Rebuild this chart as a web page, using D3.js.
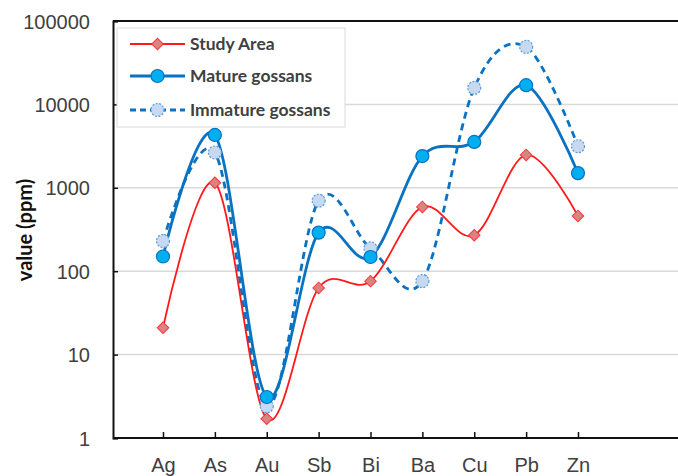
<!DOCTYPE html>
<html>
<head>
<meta charset="utf-8">
<script src="https://cdn.jsdelivr.net/npm/d3@7"></script>
<style>
  body { margin: 0; background: #fff; }
  svg { display: block; font-family: Lato, "Open Sans", sans-serif; }
</style>
</head>
<body>
<div id="chart"></div>
<script>
// elements on the x axis
var elements = ["Ag", "As", "Au", "Sb", "Bi", "Ba", "Cu", "Pb", "Zn"];

// values (ppm)
var studyArea = [21, 1150, 1.7, 63, 76, 590, 270, 2480, 460];
var matureGossans = [150, 4300, 3.1, 290, 148, 2400, 3550, 17000, 1500];
var immatureGossans = [230, 2650, 2.4, 700, 188, 76, 15800, 49000, 3150];

var yTicks = [1, 10, 100, 1000, 10000, 100000];
var seriesNames = ["Study Area", "Mature gossans", "Immature gossans"];

var width = 678, height = 476;
var margin = { top: 21, right: 0, bottom: 38, left: 113 };

var svg = d3.select("#chart")
    .append("svg")
    .attr("width", width)
    .attr("height", height);

// scales
var x = d3.scalePoint()
    .domain(elements)
    .range([163, 578]);

var y = d3.scaleLog()
    .domain([1, 100000])
    .range([height - margin.bottom, margin.top]);

// gridlines
svg.append("g")
    .selectAll("line")
    .data(yTicks.slice(1, -1))
    .enter()
    .append("line")
    .attr("x1", margin.left)
    .attr("x2", width)
    .attr("y1", function (d) { return y(d); })
    .attr("y2", function (d) { return y(d); })
    .style("stroke", "#d9d9d9")
    .style("stroke-width", 1.5);

// top frame line
svg.append("line")
    .attr("x1", margin.left)
    .attr("x2", width)
    .attr("y1", margin.top)
    .attr("y2", margin.top)
    .style("stroke", "#111")
    .style("stroke-width", 2);

// Y axis
var yAxis = svg.append("g")
    .attr("transform", "translate(" + margin.left + ",0)")
    .call(d3.axisRight(y).tickValues(yTicks).tickFormat(d3.format("d")).tickSize(5));
yAxis.select(".domain").style("stroke", "#111").style("stroke-width", 2);
yAxis.selectAll("line").style("stroke", "#111").style("stroke-width", 1.5);
yAxis.selectAll("text")
    .attr("x", -23)
    .attr("dy", "0.35em")
    .style("text-anchor", "end")
    .style("font-size", "20px")
    .style("fill", "#404040");

// X axis
var xAxis = svg.append("g")
    .attr("transform", "translate(0," + y(1) + ")")
    .call(d3.axisTop(x).tickSize(6).tickSizeOuter(0));
xAxis.select(".domain")
    .attr("d", "M" + margin.left + ",0H" + width)
    .style("stroke", "#111").style("stroke-width", 2);
xAxis.selectAll("line").style("stroke", "#111").style("stroke-width", 1.5);
xAxis.selectAll("text")
    .attr("y", 34)
    .attr("dy", 0)
    .style("font-size", "20px")
    .style("fill", "#404040");

// Y axis title
svg.append("text")
    .attr("transform", "translate(32," + 230 + ") rotate(-90)")
    .style("text-anchor", "middle")
    .style("font-size", "20px")
    .style("font-weight", "bold")
    .style("fill", "#111")
    .text("value (ppm)");

var line = d3.line()
    .x(function (d, i) { return x(elements[i]); })
    .y(function (d) { return y(d); })
    .curve(d3.curveCatmullRom.alpha(0));

var styles = [
    { data: studyArea, stroke: "#ff1a1a", width: 1.8, dash: null, shape: "diamond", fill: "#d98383", mstroke: "#ff3333", msize: 11 },
    { data: matureGossans, stroke: "#0a72c2", width: 2.8, dash: null, shape: "circle", fill: "#00aff0", mstroke: "#0a72c2", msize: 6.5 },
    { data: immatureGossans, stroke: "#0a72c2", width: 2.8, dash: "7,5", shape: "circle", fill: "#c6d9f0", mstroke: "#5b9bd5", msize: 6.5 }
];

// draw in back-to-front order like the reference
[2, 1, 0].forEach(function (k) {
    var s = styles[k];
    svg.append("path")
        .datum(s.data)
        .attr("d", line)
        .style("fill", "none")
        .style("stroke", s.stroke)
        .style("stroke-width", s.width)
        .style("stroke-dasharray", s.dash);
});

function drawMarker(g, s, cx, cy) {
    if (s.shape == "diamond") {
        g.append("path")
            .attr("d", d3.symbol().type(d3.symbolSquare).size(s.msize * s.msize * 0.55)())
            .attr("transform", "translate(" + cx + "," + cy + ") rotate(45)")
            .style("fill", s.fill)
            .style("stroke", s.mstroke)
            .style("stroke-width", 1);
    } else {
        g.append("circle")
            .attr("cx", cx)
            .attr("cy", cy)
            .attr("r", s.msize)
            .style("fill", s.fill)
            .style("stroke", s.mstroke)
            .style("stroke-width", 1.2)
            .style("stroke-dasharray", s.dash ? "2,1.5" : null);
    }
}

[2, 1, 0].forEach(function (k) {
    var s = styles[k];
    var g = svg.append("g");
    s.data.forEach(function (v, i) {
        drawMarker(g, s, x(elements[i]), y(v));
    });
});

// legend
var legend = svg.append("g");
legend.append("rect")
    .attr("x", 117)
    .attr("y", 28)
    .attr("width", 228)
    .attr("height", 99)
    .style("fill", "#fff")
    .style("stroke", "#d9d9d9")
    .style("stroke-width", 1);

var rowY = [44, 76, 110];
seriesNames.forEach(function (name, i) {
    var s = styles[i];
    legend.append("line")
        .attr("x1", 130)
        .attr("x2", 185)
        .attr("y1", rowY[i])
        .attr("y2", rowY[i])
        .style("stroke", s.stroke)
        .style("stroke-width", s.width)
        .style("stroke-dasharray", s.dash ? "6,4" : null);
    drawMarker(legend, s, 157.5, rowY[i]);
    legend.append("text")
        .attr("x", 190)
        .attr("y", rowY[i])
        .attr("dy", "0.35em")
        .style("font-size", "17.5px")
        .style("font-weight", "bold")
        .style("fill", "#404040")
        .text(name);
});
</script>
</body>
</html>
